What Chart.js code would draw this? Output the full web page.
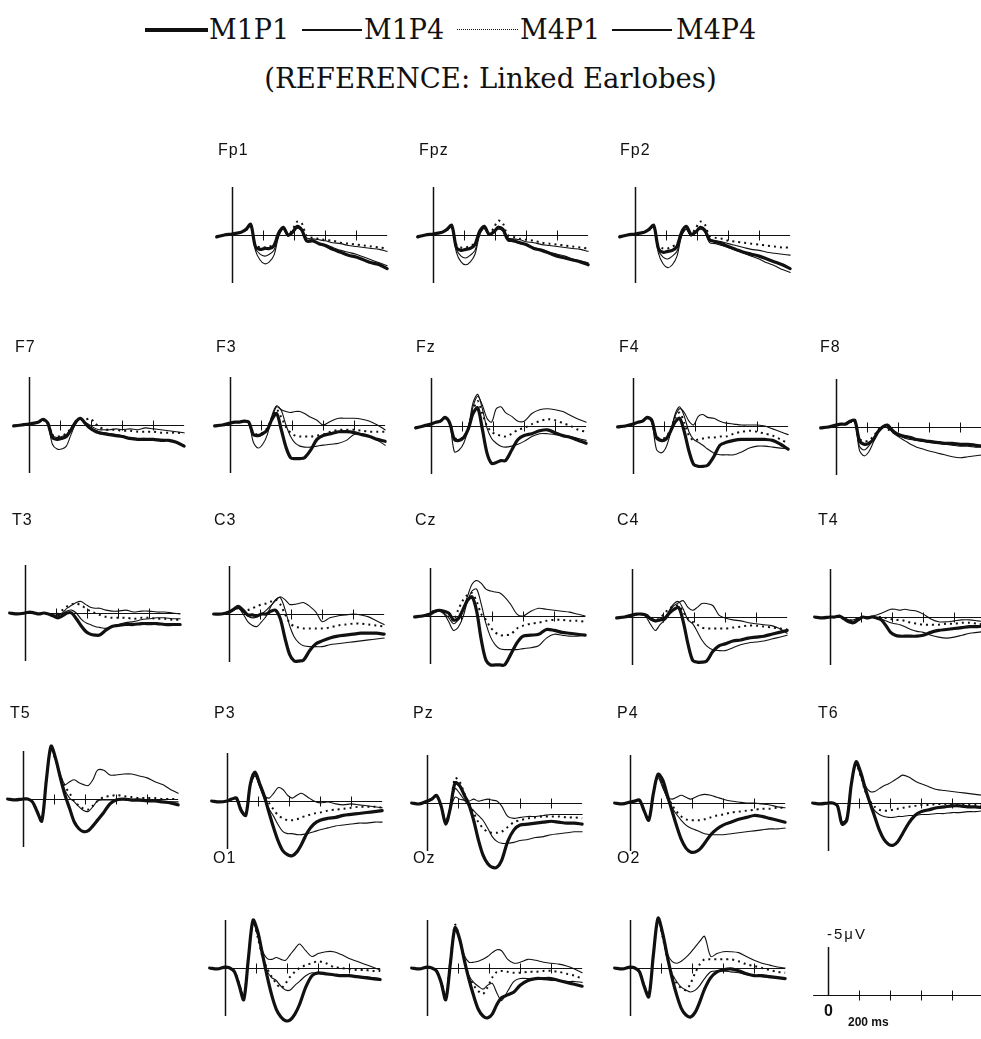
<!DOCTYPE html>
<html>
<head>
<title>ERP waveforms</title>
<script src="https://cdn.jsdelivr.net/npm/chart.js"></script>
<style>
  body { margin: 0; background: #fff; width: 981px; height: 1039px; overflow: hidden; position: relative; font-family: "Liberation Sans", Arial, sans-serif; color: #111; }
  canvas { position: absolute; }
  .lbl { position: absolute; font-size: 16px; letter-spacing: 1px; line-height: 18px; }
  .leg { position: absolute; font-family: "DejaVu Serif", serif; font-size: 27px; line-height: 32px; white-space: nowrap; }
  .sw { position: absolute; background: #111; }
  .title { position: absolute; top: 62px; left: 0; width: 981px; text-align: center; font-family: "DejaVu Serif", serif; font-size: 27.5px; line-height: 32px; }
  .unit { position: absolute; font-size: 15px; letter-spacing: 2px; }
  .ms { position: absolute; font-size: 12px; font-weight: bold; }
  .zero { position: absolute; font-size: 16px; font-weight: bold; }
</style>
</head>
<body>

<div class="sw" style="left:145px; top:28px; width:63px; height:4px;"></div>
<div class="leg" style="left:209px; top:14px;">M1P1</div>
<div class="sw" style="left:302px; top:29px; width:60px; height:1.5px;"></div>
<div class="leg" style="left:364px; top:14px;">M1P4</div>
<div class="sw" style="left:457px; top:29px; width:61px; height:0; background:none; border-top:1px dotted #111;"></div>
<div class="leg" style="left:520px; top:14px;">M4P1</div>
<div class="sw" style="left:612px; top:29px; width:60px; height:1.5px;"></div>
<div class="leg" style="left:676px; top:14px;">M4P4</div>
<div class="title">(REFERENCE: Linked Earlobes)</div>

<div id="panels"></div>

<div class="unit" style="left:827px; top:925px;">-5&mu;V</div>
<div class="zero" style="left:824px; top:1002px;">0</div>
<div class="ms" style="left:848px; top:1015px;">200 ms</div>

<script>
// time points (ms) shared by every waveform
const times = [-100, -50, 0, 30, 60, 90, 120, 150, 180, 210, 240, 270, 300, 330, 360, 390, 420, 450, 480, 520, 560, 600, 650, 700, 750, 800, 850, 900, 950, 1000];
const seriesNames = ['M1P1', 'M1P4', 'M4P1', 'M4P4'];
const tickTimes = [200, 400, 600, 800];

// amplitudes in microvolts (positive plotted downward)
const Fp1_M1P1 = [0.2,0,-0.1,-0.2,-0.3,-0.6,-1.1,1.2,1.5,1.4,1.4,1.1,-0.2,-0.8,0,-0.3,-0.9,-0.5,0.6,0.6,0.9,1.1,1.5,1.8,2.1,2.3,2.6,2.9,3.1,3.5];
const Fp1_M1P4 = [0.2,0,-0.1,-0.2,-0.3,-0.5,-1.0,1.6,2.6,3.0,2.8,2.1,0.2,-0.6,0.1,-0.2,-0.7,-0.4,0.7,0.7,0.9,1.0,1.3,1.6,1.8,2.0,2.3,2.6,2.9,3.2];
const Fp1_M4P1 = [0.1,0,-0.1,-0.2,-0.3,-0.5,-1.0,1.0,1.3,1.3,1.2,1.0,-0.3,-0.7,0,-0.6,-1.4,-1.2,0.1,0.3,0.4,0.5,0.6,0.8,0.9,1.0,1.1,1.2,1.3,1.4];
const Fp1_M4P4 = [0.1,0,-0.1,-0.2,-0.3,-0.5,-1.0,1.4,2.0,2.2,2.0,1.6,0,-0.6,0.1,-0.3,-0.9,-0.5,0.3,0.4,0.5,0.6,0.8,0.9,1.1,1.2,1.3,1.4,1.5,1.7];

const Fpz_M1P1 = [0.2,0,-0.1,-0.2,-0.3,-0.6,-1.0,1.3,1.6,1.5,1.4,1.0,-0.4,-0.9,-0.1,-0.3,-0.8,-0.6,0.4,0.6,0.8,1.0,1.4,1.6,1.9,2.2,2.4,2.6,2.8,3.1];
const Fpz_M1P4 = [0.2,0,-0.1,-0.2,-0.3,-0.5,-0.9,1.8,2.8,3.1,2.8,2.0,0,-0.7,0,-0.2,-0.6,-0.4,0.6,0.7,0.9,1.0,1.3,1.5,1.8,2.0,2.2,2.5,2.7,2.9];
const Fpz_M4P1 = [0.1,0,-0.1,-0.2,-0.3,-0.5,-0.9,1.0,1.3,1.3,1.1,0.9,-0.4,-0.8,-0.1,-0.7,-1.5,-1.2,0,0.2,0.4,0.5,0.6,0.8,0.9,1.0,1.1,1.2,1.3,1.4];
const Fpz_M4P4 = [0.1,0,-0.1,-0.2,-0.3,-0.5,-0.9,1.5,2.2,2.4,2.1,1.6,-0.1,-0.7,0,-0.3,-0.9,-0.5,0.3,0.4,0.5,0.7,0.8,1.0,1.1,1.2,1.3,1.4,1.5,1.7];

const Fp2_M1P1 = [0.2,0,-0.1,-0.2,-0.3,-0.6,-1.0,1.4,1.8,1.7,1.6,1.2,-0.3,-0.9,-0.1,-0.3,-0.8,-0.5,0.5,0.7,0.9,1.2,1.5,1.8,2.0,2.2,2.5,2.8,3.1,3.5];
const Fp2_M1P4 = [0.2,0,-0.1,-0.2,-0.3,-0.5,-0.9,1.9,3.0,3.4,3.1,2.2,0.1,-0.6,0.1,-0.2,-0.6,-0.3,0.8,0.9,1.1,1.3,1.6,1.9,2.2,2.5,2.9,3.2,3.6,3.9];
const Fp2_M4P1 = [0.1,0,-0.1,-0.2,-0.3,-0.5,-0.9,1.1,1.4,1.4,1.2,0.9,-0.4,-0.8,-0.1,-0.7,-1.4,-1.1,0.1,0.3,0.4,0.6,0.7,0.8,0.9,1.0,1.1,1.2,1.3,1.3];
const Fp2_M4P4 = [0.1,0,-0.1,-0.2,-0.3,-0.5,-0.9,1.6,2.3,2.5,2.2,1.7,0,-0.6,0.1,-0.3,-0.8,-0.4,0.4,0.6,0.7,0.9,1.1,1.3,1.5,1.6,1.8,1.9,2.0,2.1];

const F7_M1P1 = [0.1,0,-0.1,-0.2,-0.3,-0.6,-0.2,1.3,1.5,1.4,1.2,0.5,-0.3,-0.7,-0.2,0.3,0.6,0.8,0.9,1.0,1.1,1.2,1.4,1.5,1.5,1.5,1.6,1.6,1.8,2.2];
const F7_M1P4 = [0.1,0,-0.1,-0.2,-0.3,-0.5,-0.1,2.0,2.5,2.5,2.2,1.0,-0.1,-0.6,-0.2,0.2,0.5,0.7,0.8,0.9,1.0,1.1,1.3,1.4,1.4,1.5,1.5,1.6,1.8,2.1];
const F7_M4P1 = [0.1,0,-0.1,-0.2,-0.3,-0.5,-0.2,1.0,1.2,1.1,0.9,0.3,-0.4,-0.6,-0.5,-0.7,-0.3,0.2,0.4,0.5,0.5,0.6,0.6,0.7,0.7,0.7,0.8,0.8,0.8,0.9];
const F7_M4P4 = [0.1,0,-0.1,-0.2,-0.3,-0.5,-0.2,1.1,1.3,1.2,1.0,0.4,-0.3,-0.6,-0.3,0,0.3,0.5,0.5,0.5,0.4,0.5,0.4,0.5,0.3,0.4,0.5,0.6,0.7,0.8];

const F3_M1P1 = [0.1,0,-0.2,-0.3,-0.3,-0.4,-0.3,1.0,1.1,0.9,0.5,-0.6,-1.2,0.5,2.3,3.4,3.5,3.5,3.4,2.6,1.5,1.1,0.9,0.7,0.7,0.8,1.0,1.2,1.5,1.7];
const F3_M1P4 = [0.1,0,-0.2,-0.3,-0.3,-0.4,-0.2,1.8,2.4,2.0,1.0,-1.0,-2.0,-1.5,0,1.2,1.9,2.2,2.3,2.3,2.2,2.1,2.0,1.9,1.6,1.0,0.9,1.2,1.6,2.1];
const F3_M4P1 = [0.1,0,-0.2,-0.3,-0.3,-0.4,-0.2,0.8,1.0,0.8,0.3,-0.8,-1.6,-0.8,0.2,0.8,1.1,1.2,1.2,1.2,1.1,1.0,0.7,0.5,0.5,0.5,0.6,0.7,0.7,0.7];
const F3_M4P4 = [0.1,0,-0.2,-0.3,-0.3,-0.4,-0.2,1.0,1.2,1.0,0.5,-0.8,-1.9,-1.6,-1.4,-1.3,-1.4,-1.4,-1.2,-0.8,-0.5,0,-0.4,-0.7,-0.7,-0.7,-0.6,-0.4,0,0.5];

const Fz_M1P1 = [0.2,0,-0.2,-0.4,-0.5,-0.9,-0.3,1.4,1.5,1.2,0.3,-1.3,-1.9,0.3,2.8,3.9,3.8,3.6,3.6,2.5,1.4,1.0,0.8,0.5,0.4,0.7,1.0,1.2,1.5,1.8];
const Fz_M1P4 = [0.2,0,-0.2,-0.4,-0.5,-0.8,-0.2,2.7,2.5,1.8,0.2,-2.4,-3.3,-1.8,0.2,1.3,1.8,2.1,2.2,2.1,1.9,1.6,1.1,0.8,0.8,0.9,1.0,1.1,1.3,1.5];
const Fz_M4P1 = [0.2,0,-0.2,-0.4,-0.5,-0.8,-0.3,1.2,1.4,1.1,0.2,-1.6,-2.6,-1.3,0,0.6,0.9,1.0,1.1,0.8,0.4,0.2,-0.2,-0.5,-0.7,-0.6,-0.3,0,0.4,0.6];
const Fz_M4P4 = [0.2,0,-0.2,-0.4,-0.5,-0.8,-0.3,1.3,1.5,1.2,0.2,-2.0,-3.1,-2.2,-0.8,-0.4,-1.8,-2.0,-1.4,-1.0,-0.5,-0.5,-1.3,-1.7,-1.8,-1.7,-1.5,-1.1,-0.7,-0.4];

const F4_M1P1 = [0.1,0,-0.2,-0.4,-0.5,-0.9,-0.6,1.2,1.5,1.4,0.6,-0.4,-0.8,0.6,2.6,4.0,4.2,4.2,4.1,3.2,2.0,1.7,1.5,1.4,1.4,1.4,1.4,1.5,1.9,2.4];
const F4_M1P4 = [0.1,0,-0.2,-0.4,-0.5,-0.8,-0.4,2.4,2.8,2.3,0.8,-1.2,-2.0,-1.0,0.6,1.4,1.7,2.0,2.4,2.8,3.0,3.0,3.0,2.7,2.3,2.1,2.1,2.2,2.3,2.4];
const F4_M4P1 = [0.1,0,-0.2,-0.4,-0.5,-0.8,-0.5,1.1,1.3,1.2,0.4,-0.8,-1.4,-0.3,1.0,1.5,1.4,1.3,1.2,1.2,1.1,1.1,0.8,0.6,0.5,0.6,0.8,1.0,1.4,1.8];
const F4_M4P4 = [0.1,0,-0.2,-0.4,-0.5,-0.8,-0.5,1.2,1.4,1.3,0.5,-1.0,-1.8,-1.4,-0.5,-0.1,-1.0,-1.2,-0.9,-0.8,-0.5,-0.3,-0.2,-0.1,-0.1,-0.1,0,0.3,0.6,0.9];

const F8_M1P1 = [0.1,0,-0.2,-0.3,-0.3,-0.6,-0.7,1.4,1.8,1.7,1.3,0.5,0,-0.2,0.3,0.7,0.9,1.0,1.1,1.3,1.4,1.5,1.6,1.7,1.7,1.8,1.8,1.9,2.0,2.1];
const F8_M1P4 = [0.1,0,-0.2,-0.3,-0.3,-0.5,-0.6,2.4,3.0,2.6,1.6,0.6,0,-0.1,0.5,0.9,1.2,1.5,1.8,2.1,2.3,2.5,2.7,2.9,3.1,3.2,3.1,3.0,2.9,2.8];
const F8_M4P1 = [0.1,0,-0.2,-0.3,-0.3,-0.5,-0.6,1.2,1.5,1.4,1.0,0.3,-0.1,0.2,0.5,0.8,1.0,1.1,1.2,1.3,1.4,1.5,1.6,1.7,1.8,1.8,1.9,2.0,2.1,2.1];
const F8_M4P4 = [0.1,0,-0.2,-0.3,-0.3,-0.5,-0.6,2.0,2.4,2.0,1.2,0.4,-0.1,0.1,0.4,0.8,1.0,1.2,1.3,1.4,1.5,1.6,1.7,1.8,1.9,2.0,2.0,2.1,2.1,2.2];

const T3_M1P1 = [0,0.1,0,-0.1,0,0.1,0,0.1,0.3,0.5,0.3,0,0,0.6,1.3,1.9,2.2,2.3,2.3,1.8,1.4,1.3,1.2,1.2,1.1,1.1,1.1,1.2,1.2,1.2];
const T3_M1P4 = [0,0.1,0,-0.1,0,0.1,0,0.1,0.3,0.3,0.1,-0.2,-0.3,0,0.6,1.0,1.2,1.4,1.5,1.6,1.4,1.2,1.0,0.9,0.7,0.6,0.5,0.5,0.6,0.6];
const T3_M4P1 = [0,0.1,0,-0.1,0,0.1,0,0.1,0.2,0.1,-0.3,-0.7,-0.9,-1.0,-0.8,-0.5,-0.2,0,0.2,0.4,0.5,0.5,0.5,0.6,0.5,0.5,0.6,0.6,0.7,0.7];
const T3_M4P4 = [0,0.1,0,-0.1,0,0.1,0,0.1,0.2,0.2,0,-0.5,-0.8,-1.1,-1.2,-0.9,-0.6,-0.5,-0.5,-0.3,-0.2,-0.2,-0.3,-0.1,-0.2,-0.2,-0.1,-0.1,0,0.1];

const C3_M1P1 = [0,0,-0.2,-0.5,-0.8,-0.4,0.1,0.1,0.2,0,0,-0.3,-0.4,0.5,2.5,4.2,4.9,4.9,4.8,3.8,3.1,2.8,2.5,2.3,2.2,2.1,2.0,2.0,2.0,2.1];
const C3_M1P4 = [0,0,-0.2,-0.4,-0.6,0,0.8,1.2,1.3,0.8,0.2,-0.8,-1.5,-1.7,-0.5,1.2,2.4,3.0,3.3,3.4,3.4,3.4,3.2,3.1,3.0,2.9,2.8,2.7,2.6,2.5];
const C3_M4P1 = [0,0,-0.2,-0.4,-0.6,-0.3,-0.4,-0.6,-0.8,-1.0,-1.1,-1.3,-1.5,-1.0,0,0.9,1.3,1.4,1.5,1.5,1.5,1.5,1.4,1.2,1.1,1.0,1.0,1.1,1.2,1.3];
const C3_M4P4 = [0,0,-0.2,-0.4,-0.6,-0.2,0.2,0.4,0.3,0,-0.4,-0.9,-1.4,-1.8,-1.5,-1.0,-1.0,-1.1,-1.2,-0.8,-0.2,0.8,0.4,0.2,0.1,0,0.1,0.3,0.7,1.1];

const Cz_M1P1 = [0.1,0,-0.2,-0.5,-0.6,-0.5,-0.3,0.4,0.3,-0.6,-1.6,-2.0,-0.5,2.5,4.6,5.1,5.1,5.1,5.1,4.0,2.8,2.1,2.0,1.9,1.4,1.5,1.7,1.8,1.9,2.0];
const Cz_M1P4 = [0.1,0,-0.2,-0.4,-0.5,-0.2,0.6,1.5,1.2,0.2,-1.5,-2.6,-2.8,-1.2,0.8,2.2,3.0,3.4,3.5,3.5,3.5,3.4,3.3,3.1,2.3,1.9,2.0,2.1,2.1,2.0];
const Cz_M4P1 = [0.1,0,-0.3,-0.6,-0.5,-0.4,-0.2,0.5,-0.6,-1.6,-2.2,-2.4,-1.5,-0.2,0.4,1.2,1.7,2.0,2.0,1.9,1.3,1.0,0.8,0.7,0.5,0.4,0.4,0.5,0.5,0.6];
const Cz_M4P4 = [0.1,0,-0.2,-0.4,-0.5,-0.3,0.2,0.8,0.4,-0.6,-2.0,-3.3,-3.7,-3.4,-2.8,-2.6,-2.5,-2.4,-2.0,-1.2,-0.2,0,-0.5,-0.8,-0.7,-0.6,-0.5,-0.4,-0.2,0];

const C4_M1P1 = [0.1,0,-0.2,-0.3,-0.3,-0.2,0.2,0.4,0.3,0.2,-0.4,-0.8,-1.0,0.5,2.8,4.5,4.7,4.7,4.6,3.6,3.0,2.8,2.5,2.4,2.2,2.1,2.0,1.8,1.6,1.4];
const C4_M1P4 = [0.1,0,-0.2,-0.3,-0.3,0,0.8,1.4,0.8,0.3,-0.7,-1.4,-1.6,-0.8,0.3,0.7,1.5,2.4,3.0,3.4,3.5,3.5,3.2,2.9,2.7,2.6,2.5,2.3,2.1,1.9];
const C4_M4P1 = [0.1,0,-0.2,-0.3,-0.3,-0.2,0,0.3,0.1,-0.4,-0.9,-1.1,-1.2,-0.5,0.2,0.5,0.8,1.1,1.2,1.2,1.2,1.2,1.1,1.0,0.9,0.9,1.0,1.1,1.2,1.3];
const C4_M4P4 = [0.1,0,-0.2,-0.3,-0.3,-0.1,0.3,0.5,0.3,0,-0.6,-1.2,-1.5,-1.7,-1.0,-0.7,-1.0,-1.4,-1.4,-1.2,-0.2,0.1,0.3,0.4,0.6,0.7,0.8,0.9,1.2,1.7];

const T4_M1P1 = [0,0.1,0,0,-0.1,0.2,0.5,0.6,0.3,0,0.1,0,0.1,0.3,0.9,1.6,1.9,2.0,2.0,2.0,2.0,1.9,1.6,1.4,1.3,1.2,1.1,1.0,1.0,0.9];
const T4_M1P4 = [0,0.1,0,0,-0.1,0.1,0.4,0.5,0.2,0,0,0,0.1,0.2,0.4,0.6,0.7,0.8,1.0,1.3,1.5,1.6,1.9,2.1,2.2,2.1,1.9,1.7,1.6,1.5];
const T4_M4P1 = [0,0.1,0,0,-0.1,0.1,0.3,0.4,0.2,0,0,0,0,0,0.1,0.2,0.3,0.3,0.4,0.6,0.7,0.8,0.8,0.8,0.7,0.7,0.6,0.6,0.7,0.8];
const T4_M4P4 = [0,0.1,0,0,-0.1,0.1,0.3,0.3,0.1,0,0,-0.1,-0.2,-0.4,-0.6,-0.8,-0.8,-0.7,-0.8,-0.7,-0.6,-0.3,0.2,0.5,0.5,0.4,0.3,0.3,0.4,0.5];

const T5_M1P1 = [0,0.1,0,0,0.3,1.3,2.3,-2.0,-5.5,-4.2,-2.2,-0.4,1.0,2.4,3.1,3.4,3.3,2.8,2.2,1.4,0.5,0.1,0,0.1,0.1,0.2,0.2,0.3,0.4,0.6];
const T5_M1P4 = [0,0.1,0,0,0.3,1.3,2.2,-2.0,-5.2,-4.0,-2.3,-0.9,-0.1,0.3,0.8,1.2,1.3,0.8,0.2,0.1,0.1,0.1,0.1,0.2,0.2,0.2,0.2,0.3,0.3,0.3];
const T5_M4P1 = [0,0.1,0,0,0.3,1.3,2.2,-2.0,-5.2,-4.0,-2.4,-1.3,-0.6,0.2,0.7,1.0,1.1,0.7,0.2,-0.2,-0.3,-0.4,-0.3,-0.2,-0.1,-0.1,-0.1,0,0,0];
const T5_M4P4 = [0,0.1,0,0,0.3,1.3,2.2,-2.0,-5.3,-4.2,-2.6,-1.5,-1.8,-2.0,-1.7,-1.5,-1.4,-2.0,-3.0,-3.0,-2.5,-2.5,-2.6,-2.6,-2.4,-2.2,-1.8,-1.5,-1.0,-0.6];

const P3_M1P1 = [0,0.1,0,-0.2,-0.3,1.0,1.5,-1.8,-3.0,-1.8,-0.5,1.2,2.8,4.2,5.2,5.6,5.7,5.3,4.5,3.2,2.4,2.0,1.8,1.7,1.5,1.4,1.3,1.2,1.1,1.0];
const P3_M1P4 = [0,0.1,0,-0.2,-0.3,0.8,1.5,-1.6,-2.8,-1.5,-0.2,0.8,1.6,2.5,3.2,3.4,3.4,3.5,3.5,3.4,3.2,3.0,2.8,2.6,2.5,2.4,2.3,2.3,2.2,2.2];
const P3_M4P1 = [0,0.1,0,-0.2,-0.3,0.8,1.5,-1.6,-2.8,-1.8,-0.6,0.2,0.9,1.5,1.8,2.0,2.0,1.9,1.7,1.5,1.3,1.2,1.0,0.9,0.8,0.7,0.6,0.6,0.6,0.7];
const P3_M4P4 = [0,0.1,0,-0.2,-0.3,0.8,1.5,-1.6,-2.6,-1.5,-0.6,-0.3,-0.8,-1.4,-1.2,-0.6,-0.3,-0.6,-0.8,-0.4,0,0.2,0.1,0.3,0.4,0.3,0.4,0.5,0.6,0.7];

const Pz_M1P1 = [0,0.1,-0.2,-0.4,-0.8,0.3,2.2,0.5,-2.1,-1.8,-0.8,0.2,1.8,3.8,5.4,6.3,6.7,6.7,6.0,4.0,2.8,2.3,2.2,2.1,2.0,1.9,2.0,2.1,2.1,2.2];
const Pz_M1P4 = [0,0.1,-0.2,-0.4,-0.8,0.3,2.0,0.4,-1.5,-1.0,-0.3,0.3,0.8,1.3,1.8,2.6,3.5,4.0,4.2,4.2,4.1,3.9,3.8,3.6,3.5,3.3,3.2,3.1,3.0,3.0];
const Pz_M4P1 = [0,0.1,-0.2,-0.4,-0.8,0.3,2.0,0.2,-2.6,-2.2,-1.0,0,1.0,2.0,2.6,3.0,3.1,3.1,3.0,2.5,2.0,1.8,1.6,1.5,1.4,1.4,1.4,1.5,1.5,1.6];
const Pz_M4P4 = [0,0.1,-0.2,-0.4,-0.8,0.3,1.8,0.6,-0.6,-0.4,-0.3,-0.2,-0.4,-0.2,-0.3,-0.4,-0.3,-0.2,0.3,1.4,1.6,1.5,1.4,1.4,1.3,1.2,1.2,1.2,1.2,1.2];

const P4_M1P1 = [0,0.1,-0.1,-0.2,-0.3,0.8,1.8,-1.0,-3.0,-2.4,-0.8,0.8,2.4,3.8,4.7,5.1,5.1,4.8,4.2,3.3,2.7,2.3,2.0,1.7,1.5,1.3,1.4,1.6,1.8,2.0];
const P4_M1P4 = [0,0.1,-0.1,-0.2,-0.3,0.9,1.7,-1.2,-2.8,-1.8,-0.4,0.5,1.2,1.8,2.3,2.6,2.8,3.0,3.2,3.3,3.3,3.3,3.2,3.1,3.0,2.9,2.8,2.7,2.7,2.6];
const P4_M4P1 = [0,0.1,-0.1,-0.2,-0.3,0.9,1.7,-1.2,-2.8,-2.0,-0.8,0.2,0.9,1.4,1.7,1.8,1.8,1.8,1.7,1.5,1.3,1.2,1.0,0.9,0.8,0.7,0.6,0.6,0.5,0.5];
const P4_M4P4 = [0,0.1,-0.1,-0.2,-0.3,0.9,1.6,-1.2,-2.6,-1.6,-0.6,-0.4,-0.6,-0.8,-0.6,-0.4,-0.6,-0.8,-0.9,-0.8,-0.6,-0.4,-0.2,-0.1,0,0,0.1,0.2,0.4,0.5];

const T6_M1P1 = [0,0.1,0,0,0.3,2.2,1.8,-2.0,-4.3,-3.2,-1.5,0,1.4,2.8,3.8,4.3,4.4,4.0,3.2,2.1,1.3,0.9,0.7,0.5,0.4,0.3,0.3,0.4,0.4,0.5];
const T6_M1P4 = [0,0.1,0,0,0.3,2.0,1.6,-2.0,-4.0,-2.8,-1.2,0,0.8,1.2,1.4,1.5,1.5,1.4,1.4,1.3,1.3,1.2,1.2,1.1,1.1,1.0,1.0,0.9,0.9,0.8];
const T6_M4P1 = [0,0.1,0,0,0.3,2.0,1.6,-2.0,-4.0,-2.8,-1.2,-0.2,0.4,0.7,0.8,0.8,0.7,0.6,0.5,0.4,0.3,0.2,0.2,0.1,0.1,0.1,0.2,0.2,0.2,0.3];
const T6_M4P4 = [0,0.1,0,0,0.3,2.0,1.6,-2.0,-4.1,-3.0,-1.8,-1.2,-1.2,-1.5,-1.8,-2.0,-2.3,-2.6,-2.9,-2.7,-2.3,-2.0,-1.7,-1.4,-1.3,-1.2,-1.1,-1.0,-0.9,-0.8];

const O1_M1P1 = [0,0.1,-0.1,0,0.4,1.8,3.3,-1.0,-5.0,-3.8,-1.5,0.8,2.8,4.3,5.1,5.5,5.4,4.8,3.8,2.0,0.8,0.5,0.6,0.7,0.8,0.8,0.9,1.0,1.1,1.2];
const O1_M1P4 = [0,0.1,-0.1,0,0.4,1.6,3.0,-1.0,-4.8,-3.4,-1.4,0.3,1.0,1.3,1.9,2.3,2.3,1.8,1.4,0.8,0.5,0.6,0.7,0.7,0.8,0.8,0.9,0.9,1.0,1.1];
const O1_M4P1 = [0,0.1,-0.1,0,0.4,1.6,3.0,-1.0,-4.8,-3.2,-1.2,0,0.9,1.6,2.1,1.6,0.9,0.4,0,-0.3,-0.5,-0.7,-0.5,-0.1,0,0.1,0.2,0.2,0.3,0.3];
const O1_M4P4 = [0,0.1,-0.1,0,0.4,1.6,3.0,-1.0,-4.8,-3.5,-1.8,-1.0,-0.9,-1.1,-0.9,-0.8,-1.4,-2.0,-2.5,-1.8,-1.2,-1.5,-1.7,-1.7,-1.4,-1.0,-0.7,-0.4,-0.1,0.2];

const Oz_M1P1 = [0,0.1,-0.1,0,0.3,1.5,3.3,-0.5,-4.2,-3.0,-0.8,1.2,2.9,4.3,5.0,5.2,4.8,3.8,3.1,2.8,2.5,1.8,1.3,1.1,1.1,1.1,1.3,1.5,1.7,1.9];
const Oz_M1P4 = [0,0.1,-0.1,0,0.3,1.4,3.0,-0.6,-4.1,-2.8,-0.6,0.8,1.5,1.9,2.2,1.8,1.6,2.6,3.4,2.4,1.4,1.1,1.1,1.2,1.2,1.3,1.3,1.4,1.4,1.5];
const Oz_M4P1 = [0,0.1,-0.1,0,0.3,1.4,3.0,-0.8,-4.5,-3.0,-0.8,0.9,1.8,2.4,2.7,2.0,1.0,0.4,0.3,0.4,0.5,0.5,0.4,0.4,0.3,0.3,0.4,0.6,0.8,1.1];
const Oz_M4P4 = [0,0.1,-0.1,0,0.3,1.4,3.0,-0.6,-4.1,-3.0,-1.3,-0.6,-0.6,-0.7,-0.9,-1.2,-1.6,-1.9,-1.8,-0.9,-0.5,-0.6,-0.9,-0.8,-0.6,-0.5,-0.4,-0.2,0.1,0.5];

const O2_M1P1 = [0,0.1,-0.1,0,0.4,1.9,3.0,-1.4,-5.2,-3.6,-1.2,1.0,2.8,4.2,4.9,5.1,4.6,3.5,2.2,1.0,0.4,0.2,0.1,0.3,0.6,0.8,0.8,0.9,1.0,1.1];
const O2_M1P4 = [0,0.1,-0.1,0,0.4,1.7,2.8,-1.4,-5.0,-3.3,-1.0,0.6,1.4,2.0,2.3,2.5,2.3,1.8,1.1,0.4,0.3,0.3,0.4,0.5,0.7,0.8,0.9,1.0,1.0,1.1];
const O2_M4P1 = [0,0.1,-0.1,0,0.4,1.7,2.8,-1.4,-5.0,-3.2,-1.0,0.6,1.6,2.1,2.3,1.6,0.5,-0.4,-0.9,-0.9,-0.9,-0.9,-0.9,-0.7,-0.4,-0.2,0,0.2,0.4,0.5];
const O2_M4P4 = [0,0.1,-0.1,0,0.4,1.7,2.8,-1.4,-5.0,-3.4,-1.5,-0.7,-0.5,-0.7,-1.1,-1.6,-2.2,-2.8,-3.3,-1.2,-1.5,-1.7,-1.7,-1.6,-1.2,-0.8,-0.5,-0.3,-0.1,0];

// where each electrode sits on the page: axis origin (ax, ay) and label position
const panels = [
  { name: 'Fp1', ax: 232, ay: 235, lx: 218, ly: 141, data: [Fp1_M1P1, Fp1_M1P4, Fp1_M4P1, Fp1_M4P4] },
  { name: 'Fpz', ax: 433, ay: 235, lx: 419, ly: 141, data: [Fpz_M1P1, Fpz_M1P4, Fpz_M4P1, Fpz_M4P4] },
  { name: 'Fp2', ax: 635, ay: 235, lx: 620, ly: 141, data: [Fp2_M1P1, Fp2_M1P4, Fp2_M4P1, Fp2_M4P4] },
  { name: 'F7', ax: 29, ay: 425, lx: 15, ly: 338, data: [F7_M1P1, F7_M1P4, F7_M4P1, F7_M4P4] },
  { name: 'F3', ax: 230, ay: 425, lx: 216, ly: 338, data: [F3_M1P1, F3_M1P4, F3_M4P1, F3_M4P4] },
  { name: 'Fz', ax: 431, ay: 426, lx: 416, ly: 338, data: [Fz_M1P1, Fz_M1P4, Fz_M4P1, Fz_M4P4] },
  { name: 'F4', ax: 633, ay: 426, lx: 619, ly: 338, data: [F4_M1P1, F4_M1P4, F4_M4P1, F4_M4P4] },
  { name: 'F8', ax: 836, ay: 427, lx: 820, ly: 338, data: [F8_M1P1, F8_M1P4, F8_M4P1, F8_M4P4] },
  { name: 'T3', ax: 25, ay: 613, lx: 12, ly: 511, data: [T3_M1P1, T3_M1P4, T3_M4P1, T3_M4P4] },
  { name: 'C3', ax: 229, ay: 614, lx: 214, ly: 511, data: [C3_M1P1, C3_M1P4, C3_M4P1, C3_M4P4] },
  { name: 'Cz', ax: 430, ay: 616, lx: 415, ly: 511, data: [Cz_M1P1, Cz_M1P4, Cz_M4P1, Cz_M4P4] },
  { name: 'C4', ax: 632, ay: 617, lx: 617, ly: 511, data: [C4_M1P1, C4_M1P4, C4_M4P1, C4_M4P4] },
  { name: 'T4', ax: 830, ay: 617, lx: 818, ly: 511, data: [T4_M1P1, T4_M1P4, T4_M4P1, T4_M4P4] },
  { name: 'T5', ax: 23, ay: 799, lx: 10, ly: 704, data: [T5_M1P1, T5_M1P4, T5_M4P1, T5_M4P4] },
  { name: 'P3', ax: 227, ay: 801, lx: 214, ly: 704, data: [P3_M1P1, P3_M1P4, P3_M4P1, P3_M4P4] },
  { name: 'Pz', ax: 427, ay: 803, lx: 413, ly: 704, data: [Pz_M1P1, Pz_M1P4, Pz_M4P1, Pz_M4P4] },
  { name: 'P4', ax: 630, ay: 803, lx: 617, ly: 704, data: [P4_M1P1, P4_M1P4, P4_M4P1, P4_M4P4] },
  { name: 'T6', ax: 828, ay: 803, lx: 818, ly: 704, data: [T6_M1P1, T6_M1P4, T6_M4P1, T6_M4P4] },
  { name: 'O1', ax: 225, ay: 968, lx: 213, ly: 849, data: [O1_M1P1, O1_M1P4, O1_M4P1, O1_M4P4] },
  { name: 'Oz', ax: 427, ay: 968, lx: 413, ly: 849, data: [Oz_M1P1, Oz_M1P4, Oz_M4P1, Oz_M4P4] },
  { name: 'O2', ax: 630, ay: 968, lx: 617, ly: 849, data: [O2_M1P1, O2_M1P4, O2_M4P1, O2_M4P4] }
];

const seriesStyle = {
  M1P1: { borderWidth: 3.2, borderCapStyle: 'round' },
  M1P4: { borderWidth: 1.1, borderCapStyle: 'round' },
  M4P1: { borderWidth: 2, borderDash: [2, 4], borderCapStyle: 'butt' },
  M4P4: { borderWidth: 1.1, borderCapStyle: 'round' }
};

// panel geometry: 200 ms = 31 px, 5 uV = 48 px
const PX_PER_MS = 0.155;
const PX_PER_UV = 9.6;
const CW = 190, CH = 210, T_MIN = -130;
const T_MAX = T_MIN + CW / PX_PER_MS;
const V_HALF = CH / 2 / PX_PER_UV;

const eegAxes = {
  id: 'eegAxes',
  beforeDatasetsDraw(chart, args, opts) {
    const { ctx, scales: { x, y } } = chart;
    const x0 = Math.round(x.getPixelForValue(0)) + 0.5;
    const y0 = Math.round(y.getPixelForValue(0)) + 0.5;
    ctx.save();
    ctx.strokeStyle = '#111';
    ctx.lineWidth = 1;
    ctx.beginPath();
    ctx.moveTo(x.getPixelForValue(opts.from), y0);
    ctx.lineTo(x.getPixelForValue(opts.to), y0);
    opts.ticks.forEach(t => {
      const tx = Math.round(x.getPixelForValue(t)) + 0.5;
      ctx.moveTo(tx, y0 - 5);
      ctx.lineTo(tx, y0 + 5);
    });
    ctx.stroke();
    ctx.lineWidth = 1.5;
    ctx.beginPath();
    ctx.moveTo(x0, y.getPixelForValue(-opts.up));
    ctx.lineTo(x0, y.getPixelForValue(opts.down));
    ctx.stroke();
    ctx.restore();
  }
};

function makePanel(ax, ay, datasets, axisOpts) {
  const canvas = document.createElement('canvas');
  canvas.width = CW;
  canvas.height = CH;
  canvas.style.left = (ax + T_MIN * PX_PER_MS) + 'px';
  canvas.style.top = (ay - CH / 2) + 'px';
  canvas.style.width = CW + 'px';
  canvas.style.height = CH + 'px';
  document.getElementById('panels').appendChild(canvas);
  return new Chart(canvas.getContext('2d'), {
    type: 'line',
    data: { datasets: datasets },
    options: {
      responsive: false,
      animation: false,
      devicePixelRatio: 1,
      layout: { padding: 0 },
      events: [],
      scales: {
        x: { type: 'linear', min: T_MIN, max: T_MAX, display: false },
        y: { type: 'linear', min: -V_HALF, max: V_HALF, reverse: true, display: false }
      },
      elements: { point: { radius: 0 } },
      plugins: {
        legend: { display: false },
        tooltip: { enabled: false },
        eegAxes: axisOpts
      }
    },
    plugins: [eegAxes]
  });
}

panels.forEach(p => {
  const lbl = document.createElement('div');
  lbl.className = 'lbl';
  lbl.textContent = p.name;
  lbl.style.left = p.lx + 'px';
  lbl.style.top = p.ly + 'px';
  document.body.appendChild(lbl);

  const order = [2, 1, 3, 0];
  const datasets = order.map(i => Object.assign({
    label: seriesNames[i],
    data: times.map((t, k) => ({ x: t, y: p.data[i][k] })),
    borderColor: '#111',
    fill: false,
    tension: 0.3,
    clip: false,
    borderJoinStyle: 'round'
  }, seriesStyle[seriesNames[i]]));

  makePanel(p.ax, p.ay, datasets, { from: -100, to: 1000, ticks: tickTimes, up: 5, down: 5 });
});

// calibration panel
makePanel(828, 995, [], { from: -97, to: 1000, ticks: tickTimes, up: 5, down: 0 });
</script>
</body>
</html>
